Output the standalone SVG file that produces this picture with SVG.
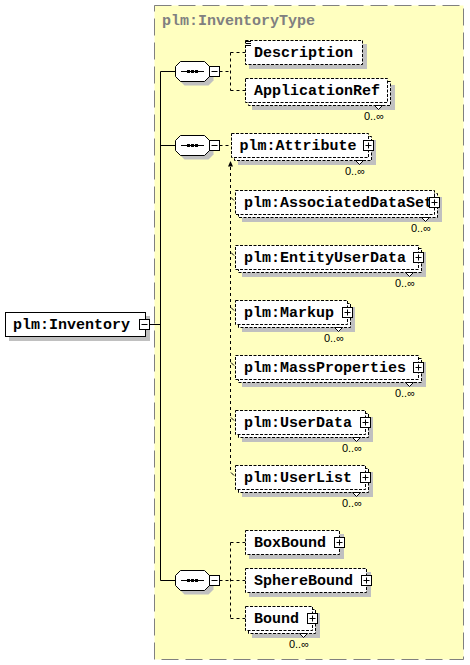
<svg xmlns="http://www.w3.org/2000/svg" xmlns:xlink="http://www.w3.org/1999/xlink" width="470" height="665" viewBox="0 0 470 665">
<style>
.sh{fill:#c0c0c0}
.bx{fill:#fff;stroke:#000;stroke-width:1;stroke-dasharray:3 1.5}
.sb{fill:#fff;stroke:#000;stroke-width:1}
.ln{fill:none;stroke:#000;stroke-width:1}
.con{fill:none;stroke:#000;stroke-width:1;stroke-dasharray:3 3}
.t{font-family:"Liberation Mono","Courier New",monospace;font-weight:bold;font-size:15px;fill:#000}
.ttl{font-family:"Liberation Mono","Courier New",monospace;font-weight:bold;font-size:15px;fill:#808080}
.occ{font-family:"Liberation Sans",Arial,sans-serif;font-size:11px;fill:#000;text-anchor:end}
.notch{fill:#fff;stroke:#000;stroke-width:1}
</style>
<defs>
<g id="plusIcon"><rect x="0.5" y="0.5" width="10" height="10" fill="#fff" stroke="#000"/><path d="M2.5 5.5H8.5M5.5 2.5V8.5" stroke="#000" fill="none"/></g>
<g id="minusIcon"><rect x="0.5" y="0.5" width="10" height="10" fill="#fff" stroke="#000"/><path d="M2.5 5.5H8.5" stroke="#000" fill="none"/></g>
<g id="seqIcon">
<polygon points="5,-10 29,-10 34,-5 34,5 29,10 5,10 0,5 0,-5" transform="translate(4,4)" class="sh"/>
<polygon points="5,-10 29,-10 34,-5 34,5 29,10 5,10 0,5 0,-5" class="sb"/>
<path d="M5.5 0H28.5" stroke="#000"/>
<rect x="11.5" y="-1.5" width="3" height="3" fill="#000"/>
<rect x="15.5" y="-1.5" width="3" height="3" fill="#000"/>
<rect x="19.5" y="-1.5" width="3" height="3" fill="#000"/>
</g>
</defs>

<g id="InventoryType">
<rect x="154.5" y="5.5" width="309" height="654" fill="#ffffc0" stroke="#808080" stroke-width="1" stroke-dasharray="17 7"/>
<text class="ttl" x="162" y="25">plm:InventoryType</text>
</g>

<g id="connectors">
<path class="ln" d="M149.5 324.5H160.5M160.5 71.5V580.5M160.5 71.5H175.5M160.5 145.5H175.5M160.5 580.5H175.5"/>
<path class="con" d="M219.5 71.5H230.5M230.5 52.5V90.5M230.5 52.5H245.5M230.5 90.5H245.5"/>
<path class="con" d="M219.5 145.5H231.5M230.5 167V473"/>
<polygon points="230.5,161 228,166.5 233,166.5" fill="#000"/>
<path class="ln" d="M232 157L236 153"/>
<polygon points="237.5,151.5 233.5,152.5 236.5,155.5" fill="#000"/>
<path class="ln" d="M231 197.5L234 200.5M231 252.5L234 255.5M231 307.5L234 310.5M231 362.5L234 365.5M231 417.5L234 420.5M231 472.5L234 475.5"/>
<path class="con" d="M219.5 580.5H230.5M230.5 542.5V618.5M230.5 542.5H245.5M230.5 580.5H245.5M230.5 618.5H245.5"/>
</g>

<g id="Inventory">
<rect class="sh" x="9" y="316" width="141" height="25"/>
<rect class="sb" x="5.5" y="312.5" width="140" height="24"/>
<text class="t" x="13" y="329">plm:Inventory</text>
<use xlink:href="#minusIcon" x="139" y="319"/>
</g>

<g id="seq1">
<use xlink:href="#seqIcon" transform="translate(175.5,71.5)"/>
<use xlink:href="#minusIcon" x="209" y="66"/>
</g>
<g id="seq2">
<use xlink:href="#seqIcon" transform="translate(175.5,145.5)"/>
<use xlink:href="#minusIcon" x="209" y="140"/>
</g>
<g id="seq3">
<use xlink:href="#seqIcon" transform="translate(175.5,580.5)"/>
<use xlink:href="#minusIcon" x="209" y="575"/>
</g>

<g id="Description">
<rect class="sh" x="249" y="44" width="118" height="25"/>
<rect class="bx" x="245.5" y="40.5" width="117" height="24"/>
<path class="ln" d="M246 41.5H251M246 43.5H251M246 45.5H251"/>
<text class="t" x="254" y="56.5">Description</text>
</g>

<g id="ApplicationRef">
<rect class="sh" x="252" y="85" width="143" height="25"/>
<rect class="bx" x="248.5" y="81.5" width="142" height="24"/>
<rect class="bx" x="245.5" y="78.5" width="142" height="24"/>
<text class="t" x="254" y="94.5">ApplicationRef</text>
<polygon class="notch" points="374.5,105.5 378.5,109.5 382.5,105.5"/>
<text class="occ" x="384" y="119.5">0..∞</text>
</g>

<g id="Attribute">
<rect class="sh" x="238" y="140" width="138" height="25"/>
<rect class="bx" x="234.5" y="136.5" width="137" height="24"/>
<rect class="bx" x="231.5" y="133.5" width="137" height="24"/>
<text class="t" x="239.5" y="149.5">plm:Attribute</text>
<use xlink:href="#plusIcon" x="363" y="140"/>
<polygon class="notch" points="355.5,160.5 359.5,164.5 363.5,160.5"/>
<text class="occ" x="365" y="174.5">0..∞</text>
</g>

<g id="AssociatedDataSet">
<rect class="sh" x="242" y="197" width="200" height="25"/>
<rect class="bx" x="238.5" y="193.5" width="199" height="24"/>
<rect class="bx" x="235.5" y="190.5" width="199" height="24"/>
<text class="t" x="244" y="206.5">plm:AssociatedDataSet</text>
<use xlink:href="#plusIcon" x="429" y="197"/>
<polygon class="notch" points="421.5,217.5 425.5,221.5 429.5,217.5"/>
<text class="occ" x="431" y="231.5">0..∞</text>
</g>

<g id="EntityUserData">
<rect class="sh" x="242" y="252" width="184" height="25"/>
<rect class="bx" x="238.5" y="248.5" width="183" height="24"/>
<rect class="bx" x="235.5" y="245.5" width="183" height="24"/>
<text class="t" x="244" y="261.5">plm:EntityUserData</text>
<use xlink:href="#plusIcon" x="413" y="252"/>
<polygon class="notch" points="405.5,272.5 409.5,276.5 413.5,272.5"/>
<text class="occ" x="415" y="286.5">0..∞</text>
</g>

<g id="Markup">
<rect class="sh" x="242" y="307" width="113" height="25"/>
<rect class="bx" x="238.5" y="303.5" width="112" height="24"/>
<rect class="bx" x="235.5" y="300.5" width="112" height="24"/>
<text class="t" x="244" y="316.5">plm:Markup</text>
<use xlink:href="#plusIcon" x="342" y="307"/>
<polygon class="notch" points="334.5,327.5 338.5,331.5 342.5,327.5"/>
<text class="occ" x="344" y="341.5">0..∞</text>
</g>

<g id="MassProperties">
<rect class="sh" x="242" y="362" width="184" height="25"/>
<rect class="bx" x="238.5" y="358.5" width="183" height="24"/>
<rect class="bx" x="235.5" y="355.5" width="183" height="24"/>
<text class="t" x="244" y="371.5">plm:MassProperties</text>
<use xlink:href="#plusIcon" x="413" y="362"/>
<polygon class="notch" points="405.5,382.5 409.5,386.5 413.5,382.5"/>
<text class="occ" x="415" y="396.5">0..∞</text>
</g>

<g id="UserData">
<rect class="sh" x="242" y="417" width="131" height="25"/>
<rect class="bx" x="238.5" y="413.5" width="130" height="24"/>
<rect class="bx" x="235.5" y="410.5" width="130" height="24"/>
<text class="t" x="244" y="426.5">plm:UserData</text>
<use xlink:href="#plusIcon" x="360" y="417"/>
<polygon class="notch" points="352.5,437.5 356.5,441.5 360.5,437.5"/>
<text class="occ" x="362" y="451.5">0..∞</text>
</g>

<g id="UserList">
<rect class="sh" x="242" y="472" width="131" height="25"/>
<rect class="bx" x="238.5" y="468.5" width="130" height="24"/>
<rect class="bx" x="235.5" y="465.5" width="130" height="24"/>
<text class="t" x="244" y="481.5">plm:UserList</text>
<use xlink:href="#plusIcon" x="360" y="472"/>
<polygon class="notch" points="352.5,492.5 356.5,496.5 360.5,492.5"/>
<text class="occ" x="362" y="506.5">0..∞</text>
</g>

<g id="BoxBound">
<rect class="sh" x="249" y="534" width="95" height="25"/>
<rect class="bx" x="245.5" y="530.5" width="94" height="24"/>
<text class="t" x="254" y="546.5">BoxBound</text>
<use xlink:href="#plusIcon" x="334" y="537"/>
</g>

<g id="SphereBound">
<rect class="sh" x="249" y="572" width="122" height="25"/>
<rect class="bx" x="245.5" y="568.5" width="121" height="24"/>
<text class="t" x="254" y="584.5">SphereBound</text>
<use xlink:href="#plusIcon" x="361" y="575"/>
</g>

<g id="Bound">
<rect class="sh" x="252" y="613" width="68" height="25"/>
<rect class="bx" x="248.5" y="609.5" width="67" height="24"/>
<rect class="bx" x="245.5" y="606.5" width="67" height="24"/>
<text class="t" x="254" y="622.5">Bound</text>
<use xlink:href="#plusIcon" x="307" y="613"/>
<polygon class="notch" points="299.5,633.5 303.5,637.5 307.5,633.5"/>
<text class="occ" x="309" y="647.5">0..∞</text>
</g>
</svg>
